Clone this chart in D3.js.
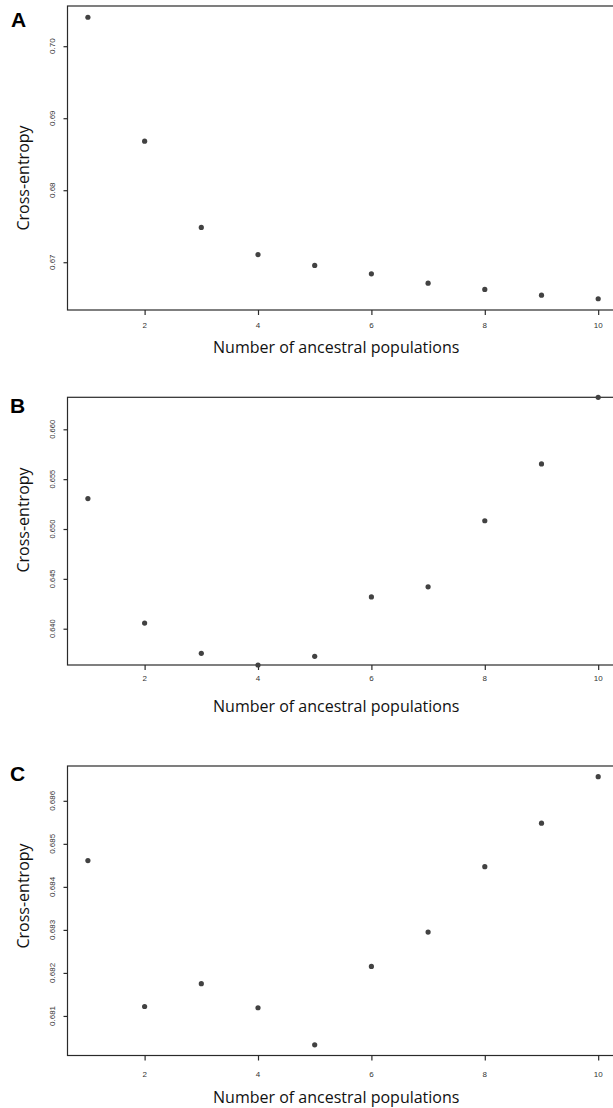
<!DOCTYPE html>
<html>
<head>
<meta charset="utf-8">
<script src="https://cdn.jsdelivr.net/npm/d3@7/dist/d3.min.js"></script>
<style>
  html, body { margin: 0; padding: 0; background: #fff; overflow: hidden; }
  svg { display: block; }
</style>
</head>
<body>
<script>
// ---- data ----
const categories = [1, 2, 3, 4, 5, 6, 7, 8, 9, 10];
const seriesA = [0.70402, 0.68681, 0.67483, 0.67107, 0.66955, 0.66839, 0.66709, 0.66622, 0.66543, 0.66493];
const seriesB = [0.65305, 0.64057, 0.63753, 0.63636, 0.63723, 0.64319, 0.64420, 0.65083, 0.65653, 0.66321];
const seriesC = [0.68461, 0.68122, 0.68175, 0.68119, 0.68033, 0.68215, 0.68295, 0.68447, 0.68548, 0.68656];
const yTicksA = [0.67, 0.68, 0.69, 0.70];
const yTicksB = [0.640, 0.645, 0.650, 0.655, 0.660];
const yTicksC = [0.681, 0.682, 0.683, 0.684, 0.685, 0.686];
const xTicks = [2, 4, 6, 8, 10];
const panelLabels = ["A", "B", "C"];
const xTitle = "Number of ancestral populations";
const yTitle = "Cross-entropy";

// ---- layout ----
const W = 613, H = 1108;
const layout = [
  { series: seriesA, ticks: yTicksA, fmt: d3.format(".2f"), top: 6, bottom: 310, pad: 0.04,
    labelY: 27, labelX: 11, tickLblDy: 18, titleDy: 43, yTitleC: 178, yTickFont: 8 },
  { series: seriesB, ticks: yTicksB, fmt: d3.format(".3f"), top: 397.3, bottom: 665, pad: 0,
    labelY: 413, labelX: 10, tickLblDy: 16, titleDy: 47, yTitleC: 520, yTickFont: 7.5 },
  { series: seriesC, ticks: yTicksC, fmt: d3.format(".3f"), top: 766, bottom: 1055.5, pad: 0.04,
    labelY: 780.5, labelX: 10, tickLblDy: 21, titleDy: 47, yTitleC: 896, yTickFont: 8 }
];

const xLeft = 67.5, xRight = 618.6;
const xExt = d3.extent(categories);
const xPad = (xExt[1] - xExt[0]) * 0.04;
const x = d3.scaleLinear().domain([xExt[0] - xPad, xExt[1] + xPad]).range([xLeft, xRight]);

const svg = d3.select("body").append("svg").attr("width", W).attr("height", H);

layout.forEach((p, i) => {
  const ext = d3.extent(p.series);
  const r = ext[1] - ext[0];
  const y = d3.scaleLinear().domain([ext[0] - p.pad * r, ext[1] + p.pad * r]).range([p.bottom, p.top]);
  const g = svg.append("g");

  // frame
  g.append("rect")
    .attr("x", xLeft).attr("y", p.top)
    .attr("width", xRight - xLeft).attr("height", p.bottom - p.top)
    .attr("fill", "none").attr("stroke", "#2a2a2a").attr("stroke-width", 1.2);

  // x axis ticks
  const xa = g.append("g").attr("transform", `translate(0,${p.bottom})`)
    .call(d3.axisBottom(x).tickValues(xTicks).tickSize(5).tickSizeOuter(0).tickPadding(0));
  xa.select(".domain").remove();
  xa.selectAll(".tick line").attr("stroke", "#2a2a2a").attr("stroke-width", 1.2);
  xa.selectAll(".tick text").remove();
  g.selectAll(".xlbl").data(xTicks).join("text")
    .attr("x", d => x(d)).attr("y", p.bottom + p.tickLblDy)
    .attr("text-anchor", "middle")
    .attr("font-family", "Liberation Sans, Arial, sans-serif")
    .attr("font-size", 8).attr("fill", "#333")
    .text(d => d);

  // y axis ticks
  const ya = g.append("g").attr("transform", `translate(${xLeft},0)`)
    .call(d3.axisLeft(y).tickValues(p.ticks).tickSize(4).tickSizeOuter(0));
  ya.select(".domain").remove();
  ya.selectAll(".tick line").attr("stroke", "#2a2a2a").attr("stroke-width", 1.2);
  ya.selectAll(".tick text").remove();
  g.selectAll(".ylbl").data(p.ticks).join("text")
    .attr("transform", d => `translate(54.5,${y(d)}) rotate(-90)`)
    .attr("text-anchor", "middle")
    .attr("font-family", "Liberation Sans, Arial, sans-serif")
    .attr("font-size", p.yTickFont).attr("fill", "#333")
    .text(d => p.fmt(d));

  // points
  g.selectAll("circle").data(categories).join("circle")
    .attr("cx", d => x(d)).attr("cy", (d, j) => y(p.series[j]))
    .attr("r", 2.6).attr("fill", "#424242");

  // axis titles
  g.append("text")
    .attr("x", (xLeft + 605) / 2).attr("y", p.bottom + p.titleDy)
    .attr("text-anchor", "middle")
    .attr("font-family", "Open Sans, sans-serif").attr("font-size", 16).attr("fill", "#111")
    .text(xTitle);
  g.append("text")
    .attr("transform", `translate(28.5,${p.yTitleC}) rotate(-90)`)
    .attr("text-anchor", "middle")
    .attr("font-family", "Open Sans, sans-serif").attr("font-size", 16).attr("fill", "#111")
    .text(yTitle);

  // panel letter
  g.append("text")
    .attr("x", p.labelX).attr("y", p.labelY)
    .attr("font-family", "Liberation Sans, Arial, sans-serif").attr("font-weight", "bold")
    .attr("font-size", 21).attr("fill", "#000")
    .text(panelLabels[i]);
});
</script>
</body>
</html>
